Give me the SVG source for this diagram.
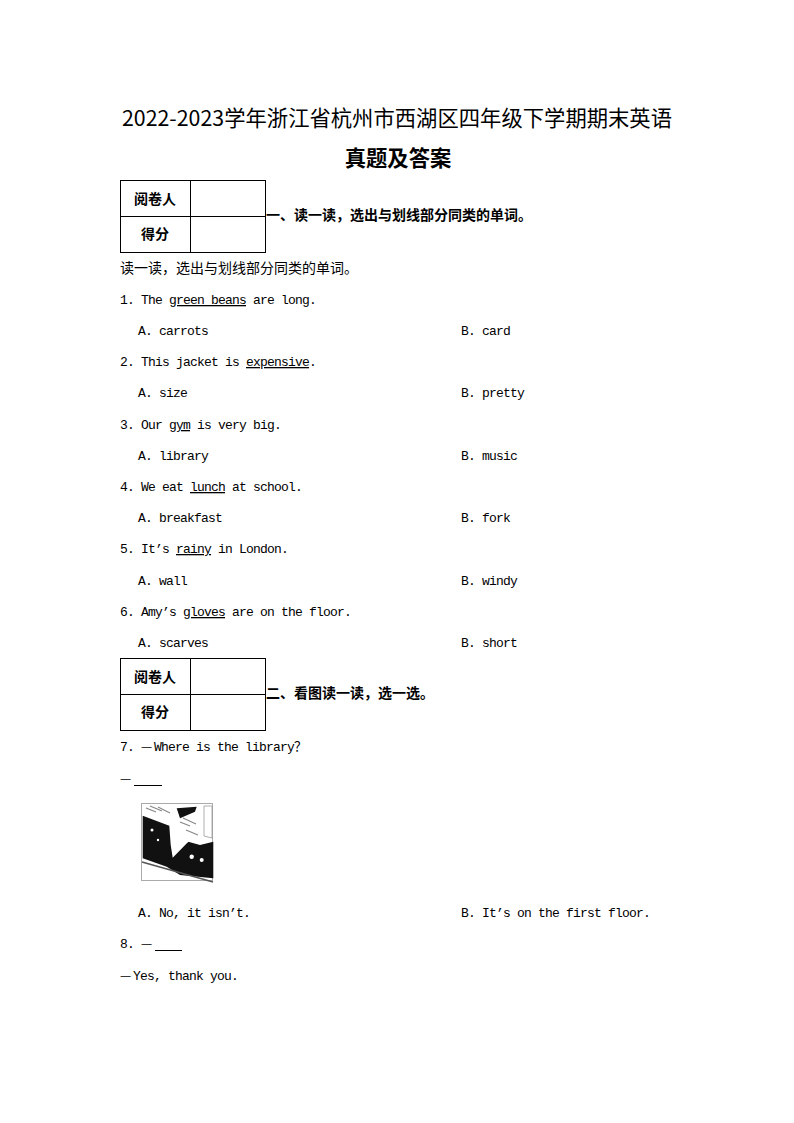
<svg xmlns="http://www.w3.org/2000/svg" width="794" height="1123" viewBox="0 0 794 1123">
<style>
.cjk{font-family:"Noto Sans CJK SC","Noto Sans",sans-serif;font-size:14px;fill:#000}
.b{font-weight:bold}
.title{font-family:"Noto Sans CJK SC",sans-serif;font-size:21.3px;fill:#000}
.en{font-family:"Liberation Mono","Noto Sans CJK SC",monospace;font-size:13px;letter-spacing:-0.8px;fill:#000}
.u{text-decoration:underline}
.dash{font-family:"Noto Sans CJK SC",sans-serif;font-size:12.5px;letter-spacing:0}
.fw{font-family:"Noto Sans CJK SC",sans-serif;font-size:13px;letter-spacing:0}
.tbl{fill:none;stroke:#000;stroke-width:1}
.blank{stroke:#000;stroke-width:1}
</style>
<rect width="794" height="1123" fill="#fff"/>
<g id="title">
<text class="title" x="122" y="126" textLength="550" lengthAdjust="spacing">2022-2023学年浙江省杭州市西湖区四年级下学期期末英语</text>
<text class="title b" x="398" y="166" text-anchor="middle">真题及答案</text>
</g>
<g id="score-table-1">
<rect class="tbl" x="120.5" y="180.5" width="145" height="72"/>
<line class="tbl" x1="120.5" y1="216.5" x2="265.5" y2="216.5"/>
<line class="tbl" x1="190.5" y1="180.5" x2="190.5" y2="252.5"/>
<text class="cjk b" x="155" y="204" text-anchor="middle">阅卷人</text>
<text class="cjk b" x="155" y="239" text-anchor="middle">得分</text>
<text class="cjk b" x="266" y="219.5">一、读一读，选出与划线部分同类的单词。</text>
</g>
<g id="section-1">
<text class="cjk" x="120" y="273">读一读，选出与划线部分同类的单词。</text>
<text class="en" x="120" y="304">1. The <tspan class="u">green beans</tspan> are long.</text>
<text class="en" x="138" y="335">A. carrots</text>
<text class="en" x="461" y="335">B. card</text>
<text class="en" x="120" y="366">2. This jacket is <tspan class="u">expensive</tspan>.</text>
<text class="en" x="138" y="397">A. size</text>
<text class="en" x="461" y="397">B. pretty</text>
<text class="en" x="120" y="429">3. Our <tspan class="u">gym</tspan> is very big.</text>
<text class="en" x="138" y="460">A. library</text>
<text class="en" x="461" y="460">B. music</text>
<text class="en" x="120" y="491">4. We eat <tspan class="u">lunch</tspan> at school.</text>
<text class="en" x="138" y="522">A. breakfast</text>
<text class="en" x="461" y="522">B. fork</text>
<text class="en" x="120" y="553">5. It’s <tspan class="u">rainy</tspan> in London.</text>
<text class="en" x="138" y="585">A. wall</text>
<text class="en" x="461" y="585">B. windy</text>
<text class="en" x="120" y="616">6. Amy’s <tspan class="u">gloves</tspan> are on the floor.</text>
<text class="en" x="138" y="647">A. scarves</text>
<text class="en" x="461" y="647">B. short</text>
</g>
<g id="score-table-2">
<rect class="tbl" x="120.5" y="658.5" width="145" height="72"/>
<line class="tbl" x1="120.5" y1="694.5" x2="265.5" y2="694.5"/>
<line class="tbl" x1="190.5" y1="658.5" x2="190.5" y2="730.5"/>
<text class="cjk b" x="155" y="682" text-anchor="middle">阅卷人</text>
<text class="cjk b" x="155" y="717" text-anchor="middle">得分</text>
<text class="cjk b" x="266" y="698">二、看图读一读，选一选。</text>
</g>
<g id="section-2">
<text class="en" x="120" y="751">7. <tspan class="dash" x="141">—</tspan><tspan x="154">Where is the library</tspan><tspan class="fw">？</tspan></text>
<text class="en" x="120" y="783"><tspan class="dash">—</tspan></text>
<line class="blank" x1="134" y1="785.5" x2="162" y2="785.5"/>
<g id="picture">
<rect x="141.5" y="803.5" width="71" height="77" fill="#fff" stroke="#aaa" stroke-width="1"/>
<g stroke="#888" stroke-width="1.2" fill="none">
<line x1="146" y1="808" x2="156" y2="812"/>
<line x1="150" y1="806" x2="162" y2="811"/>
<line x1="158" y1="807" x2="170" y2="813"/>
<line x1="180" y1="822" x2="190" y2="826"/>
<line x1="183" y1="818" x2="196" y2="824"/>
<line x1="186" y1="830" x2="198" y2="835"/>
</g>
<polygon points="142.7,815.7 169.3,825.7 170.7,845 172.7,857.7 188.3,841.7 200,845 213.3,841.7 213.3,878.3 180,875 166.7,866.7 142.7,858.3" fill="#111"/>
<polygon points="176.7,808.3 196.7,806.7 195,811.7 180,818.3" fill="#111"/>
<polygon points="204,806 212,806 212,838 204,836" fill="#fff" stroke="#999" stroke-width="0.8"/>
<line x1="142" y1="862" x2="213" y2="882" stroke="#555" stroke-width="1.5"/>
<circle cx="191.7" cy="856.7" r="2.2" fill="#fff"/>
<circle cx="201.7" cy="860" r="2" fill="#fff"/>
<circle cx="152" cy="830" r="1.5" fill="#fff"/>
<circle cx="158" cy="840" r="1.2" fill="#fff"/>
<polygon points="180,845 186,836 194,840" fill="#fff"/>
</g>
<text class="en" x="138" y="917">A. No, it isn’t.</text>
<text class="en" x="461" y="917">B. It’s on the first floor.</text>
<text class="en" x="120" y="948">8. <tspan class="dash" x="141">—</tspan></text>
<line class="blank" x1="155" y1="950.5" x2="182" y2="950.5"/>
<text class="en" x="120" y="980"><tspan class="dash">—</tspan><tspan x="133">Yes, thank you.</tspan></text>
</g>
</svg>
